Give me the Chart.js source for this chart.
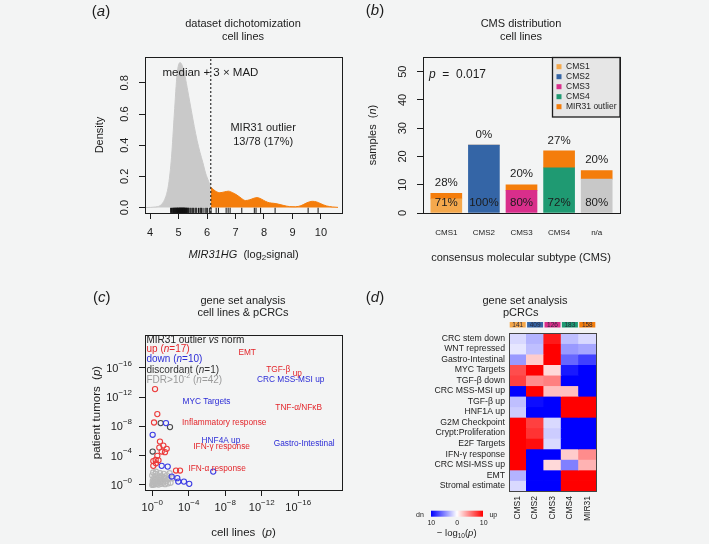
<!DOCTYPE html>
<html lang="en">
<head>
<meta charset="UTF-8" />
<title>MIR31 outlier: density, CMS distribution and gene set analysis</title>
<script src="https://cdn.jsdelivr.net/npm/chart.js"></script>
<style>
  html, body { margin: 0; padding: 0; background: #f3f4f4; }
  #fig { position: relative; width: 709px; height: 544px; overflow: hidden; }
  canvas { position: absolute; }
</style>
</head>
<body>
<div id="fig">
  <canvas id="chartA" width="354" height="268" style="left:0;top:0"></canvas>
  <canvas id="chartB" width="355" height="268" style="left:354px;top:0"></canvas>
  <canvas id="chartC" width="354" height="276" style="left:0;top:268px"></canvas>
  <canvas id="chartD" width="355" height="276" style="left:354px;top:268px"></canvas>
</div>

<script>
// ------------------------------------------
// (a) density of MIR31HG in cell lines
// ------------------------------------------
const densityX = [3.85, 4.2, 4.4, 4.55, 4.65, 4.75, 4.85, 4.95, 5.05, 5.15, 5.25, 5.35, 5.45, 5.55, 5.65, 5.75, 5.85, 5.95, 6.05, 6.13,
                  6.3, 6.45, 6.6, 6.75, 6.9, 7.05, 7.2, 7.35, 7.5, 7.65, 7.75, 7.9, 8.05, 8.2, 8.35, 8.5, 8.7, 8.9, 9.1, 9.3,
                  9.5, 9.7, 9.85, 10.0, 10.2, 10.4, 10.6];
const densityY = [0, 0.004, 0.02, 0.07, 0.15, 0.32, 0.6, 0.86, 0.93, 0.9, 0.82, 0.72, 0.62, 0.52, 0.43, 0.355, 0.29, 0.22, 0.17, 0.13,
                  0.105, 0.095, 0.1, 0.105, 0.095, 0.08, 0.06, 0.045, 0.05, 0.06, 0.064, 0.055, 0.04, 0.03, 0.027, 0.022, 0.013, 0.006, 0.005, 0.012,
                  0.03, 0.04, 0.036, 0.024, 0.01, 0.004, 0.001];
const CUTOFF = 6.13;   // median + 3 x MAD
const rugNormal = [4.72, 4.75, 4.78, 4.8, 4.82, 4.84, 4.85, 4.87, 4.88, 4.9, 4.91, 4.92, 4.94, 4.95, 4.96, 4.97, 4.98, 5.0, 5.01, 5.02,
                   5.03, 5.04, 5.05, 5.06, 5.07, 5.08, 5.09, 5.1, 5.11, 5.12, 5.13, 5.14, 5.15, 5.16, 5.17, 5.18, 5.19, 5.2, 5.21, 5.22,
                   5.24, 5.25, 5.27, 5.28, 5.3, 5.32, 5.34, 5.36, 5.4, 5.43, 5.47, 5.5, 5.53, 5.58, 5.61, 5.64, 5.7, 5.75, 5.78, 5.81,
                   5.86, 5.93, 5.97, 6.01, 6.08];
const rugOutlier = [6.14, 6.32, 6.4, 6.67, 6.74, 6.81, 7.22, 7.66, 7.72, 7.88, 8.39, 9.55, 9.9];
const aTicksX = [4, 5, 6, 7, 8, 9, 10];
const aTicksY = [0, 0.2, 0.4, 0.6, 0.8];

// ------------------------------------------
// (b) CMS distribution of cell lines
// ------------------------------------------
const cmsNames = ['CMS1', 'CMS2', 'CMS3', 'CMS4', 'n/a'];
const cmsCounts = [5, 24, 8, 16, 12];
const outlierCounts = [2, 0, 2, 6, 3];
const pctOutlier = ['28%', '0%', '20%', '27%', '20%'];
const pctCms = ['71%', '100%', '80%', '72%', '80%'];
const bTicksY = [0, 10, 20, 30, 40, 50];
const legendNames = ['CMS1', 'CMS2', 'CMS3', 'CMS4', 'MIR31 outlier'];

// ------------------------------------------
// (c) gene set analysis, -log10 p (cell lines vs tumours)
// ------------------------------------------
const upPts = [[0.30, 13.1], [0.55, 9.68], [0.19, 8.53], [0.84, 5.93], [1.21, 5.38], [0.77, 5.1], [1.58, 4.93], [1.03, 4.56], [1.39, 4.48],
               [0.55, 3.97], [0.37, 3.42], [0.11, 3.25], [0.68, 3.36], [0.11, 2.6], [2.6, 1.96], [3.04, 1.96], [0.4, 2.95]];
const downPts = [[0.04, 6.85], [1.5, 8.45], [1.03, 2.6], [1.69, 2.5], [2.13, 1.14], [2.74, 0.92], [2.85, 0.45], [3.47, 0.45], [4.05, 0.14], [6.68, 1.82]];
const discordPts = [[0.04, 4.56], [0.92, 8.45], [1.94, 7.9]];
const nsPts = [[0, 0], [0.1, 0.2], [0.2, 0.05], [0.05, 0.5], [0.3, 0.3], [0.4, 0.1], [0.15, 0.8], [0.5, 0.6], [0.6, 0.2], [0.7, 0.05],
               [0.25, 1.1], [0.8, 0.4], [0.9, 0.9], [1.0, 0.15], [0.35, 1.5], [1.1, 0.6], [1.2, 0.3], [0.45, 0.9], [0.0, 1.3], [1.3, 1.0],
               [1.4, 0.1], [0.6, 1.3], [0.7, 0.7], [1.5, 0.5], [0.2, 0.35], [0.85, 1.6], [1.6, 1.3], [1.7, 0.2], [0.1, 1.7], [1.0, 1.2],
               [1.8, 0.8], [0.55, 0.35], [1.25, 1.5], [0.3, 0.65], [2.0, 0.3], [0.05, 0.1], [0.95, 0.5], [1.45, 0.9], [0.75, 1.05], [0.4, 1.8],
               [1.9, 1.6], [2.2, 0.9]];
const gsLabels = ['EMT', 'TGF-β', 'CRC MSS-MSI up', 'MYC Targets', 'TNF-α/NFκB', 'Inflammatory response', 'HNF4A up', 'IFN-γ response', 'Gastro-Intestinal', 'IFN-α response'];
const gsLabelSub = ['', 'up', '', '', '', '', '', '', '', ''];
const gsLabelX = [10.4, 14.45, 15.18, 5.94, 16.05, 7.89, 7.53, 7.6, 16.65, 7.11];
const gsLabelY = [18.04, 15.75, 14.38, 11.41, 10.59, 8.45, 6.03, 5.25, 5.62, 2.19];
const gsLabelDir = ['up', 'up', 'down', 'down', 'up', 'up', 'down', 'up', 'down', 'up'];
const cTicks = [0, 4, 8, 12, 16];

// ------------------------------------------
// (d) gene set analysis in pCRCs, signed -log10 p
// ------------------------------------------
const heatCols = ['CMS1', 'CMS2', 'CMS3', 'CMS4', 'MIR31'];
const heatColCounts = [141, 409, 126, 183, 158];
const heatRows = ['CRC stem down', 'WNT repressed', 'Gastro-Intestinal', 'MYC Targets', 'TGF-β down', 'CRC MSS-MSI up', 'TGF-β up', 'HNF1A up',
                  'G2M Checkpoint', 'Crypt:Proliferation', 'E2F Targets', 'IFN-γ response', 'CRC MSI-MSS up', 'EMT', 'Stromal estimate'];
const heatValues = [
  [-1.5, -3, 9, -2.5, -1.5],
  [-1, -2.5, 10, -4, -3.5],
  [-4, 2, 10, -6, -7.5],
  [7, 10, 1.5, -9, -10],
  [7.5, 4.5, 5, -10, -10],
  [-10, 10, 2.5, 2.5, -10],
  [-2.5, -9.5, -10, 10, 10],
  [-2, -10, -10, 10, 10],
  [10, 7.5, -1.5, -10, -10],
  [10, 8, -2, -10, -10],
  [10, 9.5, -1.5, -10, -10],
  [10, -10, -10, 2, 4.5],
  [10, -10, 1.5, -5, 3],
  [-3, -10, -10, 10, 10],
  [-1.5, -10, -10, 10, 10]
];

// ------------------------------------------
// Colours & shared helpers
// ------------------------------------------
const FONT = '"Liberation Sans", Arial, Helvetica, sans-serif';
const INK = '#1c1c1c';
const CMS_COLORS = ['#f4a84c', '#3465a6', '#d92e8b', '#1f9a72', '#c8c8c8'];
const OUTLIER_COLOR = '#f47d0b';
const UP_RED = '#e3262b', DOWN_BLUE = '#2b2bd6';

Chart.defaults.font.family = FONT;
Chart.defaults.color = INK;

// draw a run of text pieces (for italics, sub/superscripts)
function drawRuns(ctx, x, y, runs, opts) {
  opts = opts || {};
  ctx.save();
  ctx.translate(x, y);
  if (opts.rotate) ctx.rotate(opts.rotate);
  ctx.textBaseline = 'middle';
  ctx.textAlign = 'left';
  const items = runs.map(r => {
    const s = Object.assign({ size: opts.size || 11, italic: false, dy: 0, color: opts.color || INK }, r[1] || {});
    const font = (s.italic ? 'italic ' : '') + s.size + 'px ' + FONT;
    ctx.font = font;
    return { t: r[0], font: font, w: ctx.measureText(r[0]).width, s: s };
  });
  const total = items.reduce((acc, it) => acc + it.w, 0);
  let cx = opts.align === 'left' ? 0 : opts.align === 'right' ? -total : -total / 2;
  items.forEach(it => {
    ctx.font = it.font;
    ctx.fillStyle = it.s.color;
    ctx.fillText(it.t, cx, it.s.dy);
    cx += it.w;
  });
  ctx.restore();
}

function drawBox(ctx, a, color, lw) {
  ctx.save();
  ctx.strokeStyle = color || INK;
  ctx.lineWidth = lw || 1;
  ctx.strokeRect(Math.round(a.left) + 0.5, Math.round(a.top) + 0.5, Math.round(a.right - a.left), Math.round(a.bottom - a.top));
  ctx.restore();
}

const rGrid = () => ({ drawOnChartArea: false, drawTicks: true, tickLength: 6, color: INK, lineWidth: 1 });
const fixedTicks = values => s => { s.ticks = values.map(v => ({ value: v })); };
const zeroWidth = s => { s.width = 0; };
const zeroHeight = s => { s.height = 0; };
const baseOptions = padding => ({
  responsive: false,
  animation: false,
  layout: { padding: padding, autoPadding: false },
  plugins: { legend: { display: false }, tooltip: { enabled: false } }
});
const ROT = -Math.PI / 2;

// ------------------------------------------
// Panel (a)
// ------------------------------------------
const densPts = densityX.map((x, i) => ({ x: x, y: densityY[i] }));
const panelA = {
  id: 'panelA',
  afterDraw(chart) {
    const ctx = chart.ctx, a = chart.chartArea, sx = chart.scales.x, sy = chart.scales.y;
    drawBox(ctx, a);
    aTicksY.forEach(v => drawRuns(ctx, 125, sy.getPixelForValue(v), [[v.toFixed(1)]], { rotate: ROT }));
    aTicksX.forEach(v => drawRuns(ctx, sx.getPixelForValue(v), 233, [[String(v)]]));
    drawRuns(ctx, 100, (a.top + a.bottom) / 2, [['Density']], { rotate: ROT });
    drawRuns(ctx, (a.left + a.right) / 2, 255, [['MIR31HG', { italic: true }], ['  (log'], ['2', { size: 8, dy: 3 }], ['signal)']]);
    drawRuns(ctx, 243, 24, [['dataset dichotomization']]);
    drawRuns(ctx, 243, 36.7, [['cell lines']]);
    drawRuns(ctx, 101, 11.7, [['('], ['a', { italic: true }], [')']], { size: 15 });
    drawRuns(ctx, sx.getPixelForValue(6.12), sy.getPixelForValue(0.866), [['median + 3 × MAD']], { size: 11.5 });
    drawRuns(ctx, sx.getPixelForValue(7.97), sy.getPixelForValue(0.51), [['MIR31 outlier']]);
    drawRuns(ctx, sx.getPixelForValue(7.97), sy.getPixelForValue(0.418), [['13/78 (17%)']]);
  }
};

new Chart(document.getElementById('chartA'), {
  type: 'scatter',
  data: {
    datasets: [
      { data: [{ x: CUTOFF, y: -0.035 }, { x: CUTOFF, y: 0.966 }], showLine: true, borderColor: '#222', borderWidth: 1.1,
        borderDash: [2, 2], pointRadius: 0 },
      { data: rugNormal.concat(rugOutlier).map(x => ({ x: x, y: -0.018 })), pointStyle: 'line', pointRotation: 90, pointRadius: 2.6,
        pointBorderColor: '#111', pointBorderWidth: 1 },
      { data: densPts.filter(p => p.x >= CUTOFF), showLine: true, fill: 'origin', backgroundColor: OUTLIER_COLOR,
        borderColor: OUTLIER_COLOR, borderWidth: 1, pointRadius: 0, cubicInterpolationMode: 'monotone' },
      { data: densPts.filter(p => p.x <= CUTOFF), showLine: true, fill: 'origin', backgroundColor: '#c9c9c9',
        borderColor: '#c9c9c9', borderWidth: 1, pointRadius: 0, cubicInterpolationMode: 'monotone' }
    ]
  },
  options: Object.assign(baseOptions({ left: 145, right: 12, top: 57, bottom: 55 }), {
    scales: {
      x: { type: 'linear', min: 3.82, max: 10.74, afterBuildTicks: fixedTicks(aTicksX), afterFit: zeroHeight,
           ticks: { display: false }, grid: rGrid(), border: { display: false } },
      y: { type: 'linear', min: -0.035, max: 0.966, afterBuildTicks: fixedTicks(aTicksY), afterFit: zeroWidth,
           ticks: { display: false }, grid: rGrid(), border: { display: false } }
    }
  }),
  plugins: [panelA]
});

// ------------------------------------------
// Panel (b)
// ------------------------------------------
const legendColors = CMS_COLORS.slice(0, 4).concat([OUTLIER_COLOR]);
const panelB = {
  id: 'panelB',
  afterDraw(chart) {
    const ctx = chart.ctx, a = chart.chartArea, sx = chart.scales.x, sy = chart.scales.y;
    drawBox(ctx, a);
    bTicksY.forEach(v => drawRuns(ctx, 49, sy.getPixelForValue(v), [[String(v)]], { rotate: ROT }));
    cmsNames.forEach((n, i) => {
      const px = sx.getPixelForValue(i + 1);
      drawRuns(ctx, px, 233, [[n]], { size: 8 });
      drawRuns(ctx, px, sy.getPixelForValue(cmsCounts[i] + outlierCounts[i] + 3.7), [[pctOutlier[i]]], { size: 11.5 });
      drawRuns(ctx, px, sy.getPixelForValue(3.5), [[pctCms[i]]], { size: 11.5 });
    });
    drawRuns(ctx, 19, (a.top + a.bottom) / 2, [['samples  ('], ['n', { italic: true }], [')']], { rotate: ROT });
    drawRuns(ctx, 167, 258, [['consensus molecular subtype (CMS)']]);
    drawRuns(ctx, 167, 24, [['CMS distribution']]);
    drawRuns(ctx, 167, 36.7, [['cell lines']]);
    drawRuns(ctx, 21, 11, [['('], ['b', { italic: true }], [')']], { size: 15 });
    drawRuns(ctx, 75, 75, [['p', { italic: true }], ['  =  0.017']], { size: 12, align: 'left' });
    // legend box
    ctx.save();
    ctx.fillStyle = '#e6e6e6';
    ctx.fillRect(198, 57, 68, 60);
    ctx.strokeStyle = INK;
    ctx.lineWidth = 1.3;
    ctx.strokeRect(198.5, 57.5, 67.5, 59.5);
    legendNames.forEach((n, i) => {
      const y = 66.7 + i * 10;
      ctx.fillStyle = legendColors[i];
      ctx.fillRect(202.5, y - 2.5, 5, 5);
      drawRuns(ctx, 212, y, [[n]], { size: 8.5, align: 'left' });
    });
    ctx.restore();
  }
};

new Chart(document.getElementById('chartB'), {
  type: 'bar',
  data: {
    datasets: [
      { label: 'CMS', data: cmsCounts.map((v, i) => ({ x: i + 1, y: v })), backgroundColor: CMS_COLORS, barThickness: 31 },
      { label: 'MIR31 outlier', data: outlierCounts.map((v, i) => ({ x: i + 1, y: v })), backgroundColor: OUTLIER_COLOR, barThickness: 31 }
    ]
  },
  options: Object.assign(baseOptions({ left: 69, right: 89, top: 57, bottom: 55 }), {
    scales: {
      x: { type: 'linear', min: 0.38, max: 5.62, offset: false, stacked: true, afterFit: zeroHeight,
           ticks: { display: false }, grid: { display: false, offset: false }, border: { display: false } },
      y: { type: 'linear', min: 0, max: 55.2, stacked: true, afterBuildTicks: fixedTicks(bTicksY), afterFit: zeroWidth,
           ticks: { display: false }, grid: rGrid(), border: { display: false } }
    }
  }),
  plugins: [panelB]
});

// ------------------------------------------
// Panel (c)
// ------------------------------------------
const toXY = pts => pts.map(p => ({ x: p[0], y: p[1] }));
const circle = (pts, color) => ({ data: toXY(pts), pointStyle: 'circle', pointRadius: 2.6, pointBorderWidth: 1.1,
                                  pointBorderColor: color, pointBackgroundColor: 'rgba(0,0,0,0)' });
const powLabel = e => [['10'], ['−' + e, { size: 8, dy: -5.5 }]];
const panelC = {
  id: 'panelC',
  afterDraw(chart) {
    const ctx = chart.ctx, a = chart.chartArea, sx = chart.scales.x, sy = chart.scales.y;
    drawBox(ctx, a);
    cTicks.forEach(v => {
      drawRuns(ctx, 132, sy.getPixelForValue(v) + 1, powLabel(v), { align: 'right' });
      drawRuns(ctx, sx.getPixelForValue(v), 240, powLabel(v));
    });
    drawRuns(ctx, 97, (a.top + a.bottom) / 2, [['patient tumors  ('], ['p', { italic: true }], [')']], { rotate: ROT, size: 11.5 });
    drawRuns(ctx, (a.left + a.right) / 2, 264.7, [['cell lines  ('], ['p', { italic: true }], [')']], { size: 11.5 });
    drawRuns(ctx, 243, 32.7, [['gene set analysis']]);
    drawRuns(ctx, 243, 45.3, [['cell lines & pCRCs']]);
    drawRuns(ctx, 101.7, 30.3, [['('], ['c', { italic: true }], [')']], { size: 15 });
    // legend text
    const lx = 146.5;
    drawRuns(ctx, lx, 72, [['MIR31 outlier '], ['vs', { italic: true }], [' norm']], { size: 10, align: 'left', color: '#222' });
    drawRuns(ctx, lx, 81.5, [['up ('], ['n', { italic: true }], ['=' + upPts.length + ')']], { size: 10, align: 'left', color: UP_RED });
    drawRuns(ctx, lx, 91.2, [['down ('], ['n', { italic: true }], ['=' + downPts.length + ')']], { size: 10, align: 'left', color: DOWN_BLUE });
    drawRuns(ctx, lx, 101.8, [['discordant ('], ['n', { italic: true }], ['=1)']], { size: 10, align: 'left', color: '#333' });
    drawRuns(ctx, lx, 112.5, [['FDR>10'], ['-2', { size: 7, dy: -4 }], [' ('], ['n', { italic: true }], ['=' + nsPts.length + ')']],
             { size: 10, align: 'left', color: '#9a9a9a' });
    // gene set labels
    gsLabels.forEach((t, i) => {
      const color = gsLabelDir[i] === 'up' ? UP_RED : DOWN_BLUE;
      const runs = [[t]];
      if (gsLabelSub[i]) runs.push([' ' + gsLabelSub[i], { dy: 3.5 }]);
      drawRuns(ctx, sx.getPixelForValue(gsLabelX[i]), sy.getPixelForValue(gsLabelY[i]), runs, { size: 8.3, color: color });
    });
  }
};

new Chart(document.getElementById('chartC'), {
  type: 'scatter',
  data: {
    datasets: [
      circle(upPts, '#ec3b3b'),
      circle(downPts, '#3c3ce4'),
      circle(discordPts, '#4a4a4a'),
      circle(nsPts, '#b9b9b9')
    ]
  },
  options: Object.assign(baseOptions({ left: 145, right: 12, top: 67, bottom: 54 }), {
    scales: {
      x: { type: 'linear', min: -0.8, max: 20.8, afterBuildTicks: fixedTicks(cTicks), afterFit: zeroHeight,
           ticks: { display: false }, grid: rGrid(), border: { display: false } },
      y: { type: 'linear', min: -0.7, max: 20.5, afterBuildTicks: fixedTicks(cTicks), afterFit: zeroWidth,
           ticks: { display: false }, grid: rGrid(), border: { display: false } }
    }
  }),
  plugins: [panelC]
});

// ------------------------------------------
// Panel (d)
// ------------------------------------------
function heatColor(v) {
  const t = Math.min(Math.abs(v) / 10, 1);
  const c = Math.round(255 * (1 - t));
  return v < 0 ? `rgb(${c},${c},255)` : `rgb(255,${c},${c})`;
}
const annotColors = CMS_COLORS.slice(0, 4).concat([OUTLIER_COLOR]);
const panelD = {
  id: 'panelD',
  afterDraw(chart) {
    const ctx = chart.ctx, a = chart.chartArea, sx = chart.scales.x;
    drawBox(ctx, a, '#444');
    // sample-count strip above the heatmap
    const colW = (a.right - a.left) / heatCols.length;
    heatCols.forEach((c, i) => {
      const px = sx.getPixelForValue(i);
      ctx.fillStyle = annotColors[i];
      ctx.fillRect(px - colW / 2 + 0.7, 54, colW - 1.4, 5.5);
      drawRuns(ctx, px, 57, [[String(heatColCounts[i])]], { size: 6.5, color: '#2a2a3a' });
    });
    drawRuns(ctx, 171, 32.7, [['gene set analysis']]);
    drawRuns(ctx, 166.7, 45.3, [['pCRCs']]);
    drawRuns(ctx, 21, 30.3, [['('], ['d', { italic: true }], [')']], { size: 15 });
    // colour key
    const g = ctx.createLinearGradient(77, 0, 129, 0);
    g.addColorStop(0, heatColor(-10));
    g.addColorStop(0.5, heatColor(0));
    g.addColorStop(1, heatColor(10));
    ctx.fillStyle = g;
    ctx.fillRect(77, 242.7, 52, 6);
    drawRuns(ctx, 66, 247, [['dn']], { size: 7 });
    drawRuns(ctx, 139.3, 247, [['up']], { size: 7 });
    drawRuns(ctx, 77.3, 255.3, [['10']], { size: 7 });
    drawRuns(ctx, 103.3, 255.3, [['0']], { size: 7 });
    drawRuns(ctx, 129.7, 255.3, [['10']], { size: 7 });
    drawRuns(ctx, 102.7, 265.3, [['− log'], ['10', { size: 6.5, dy: 2.5 }], ['('], ['p', { italic: true }], [')']], { size: 9.5 });
  }
};

new Chart(document.getElementById('chartD'), {
  type: 'bar',
  data: {
    labels: heatCols,
    datasets: heatValues.map((row, i) => ({
      label: heatRows[i],
      data: row.map(() => 1),
      backgroundColor: row.map(heatColor),
      borderWidth: 0,
      inflateAmount: 0.4,
      barPercentage: 1,
      categoryPercentage: 1
    }))
  },
  options: Object.assign(baseOptions({ left: 0, right: 113, top: 65, bottom: 13 }), {
    scales: {
      x: { type: 'category', stacked: true, afterFit: s => { s.height = 40; },
           ticks: { minRotation: 90, maxRotation: 90, autoSkip: false, padding: 5, font: { size: 8.5 }, color: INK },
           grid: { display: false, drawTicks: false }, border: { display: false } },
      y: { type: 'linear', min: 0, max: 15, reverse: true, stacked: true,
           afterBuildTicks: fixedTicks(heatRows.map((r, i) => i + 0.5)), afterFit: s => { s.width = 155; },
           ticks: { padding: 4, autoSkip: false, font: { size: 8.7 }, color: INK, callback: (v, i) => heatRows[i] },
           grid: { display: false, drawTicks: false }, border: { display: false } }
    }
  }),
  plugins: [panelD]
});
</script>
</body>
</html>
